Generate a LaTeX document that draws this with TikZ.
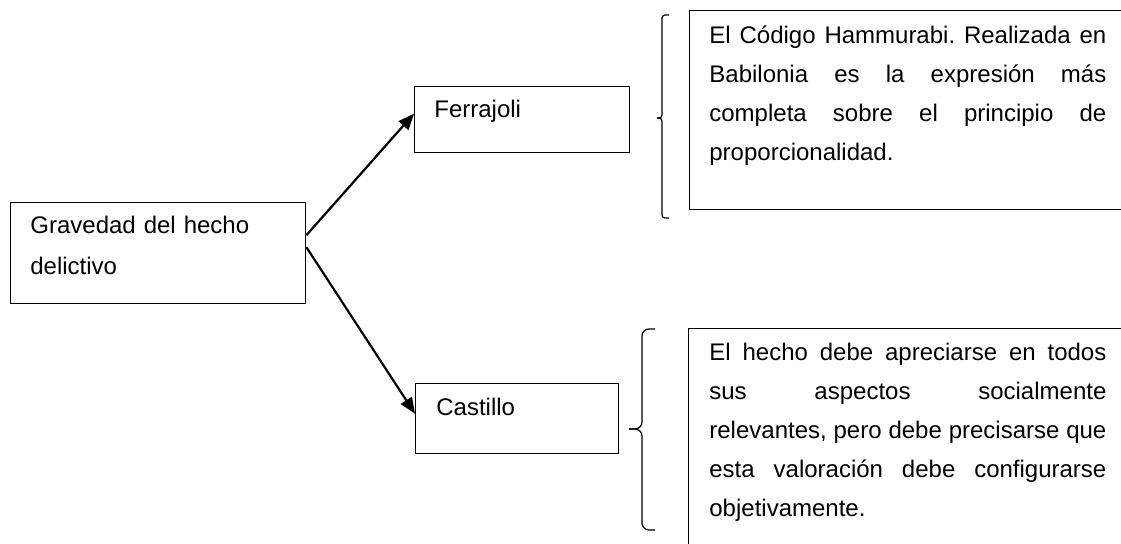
\documentclass[tikz,border=0pt]{standalone}
\usepackage{fontspec}
\setmainfont{Liberation Sans}
\usetikzlibrary{arrows.meta,calc}
\newcommand\mytextsetup{\frenchspacing\hyphenpenalty=10000\relax\exhyphenpenalty=10000\relax\tolerance=10000\relax}
\begin{document}
\begin{tikzpicture}[x=0.5pt,y=-0.5pt,
  frame/.style={draw=black,line width=0.7pt,rectangle,inner sep=0pt,anchor=north west},
  lbl/.style={inner sep=0pt,anchor=base west,
    font=\fontsize{12pt}{19.5pt}\selectfont\mytextsetup},
  para/.style={lbl,text width=198.5pt,align=justify},
  arr/.style={line width=1.1pt,-{Triangle[length=8pt,width=6.5pt]}},
  bracepath/.style={line width=0.6pt,rounded corners=1.5pt}]
\useasboundingbox (0,0) rectangle (1121,544);
\clip (0,0) rectangle (1121,544);

% boxes
\node[frame,minimum width=147.5pt,minimum height=50.5pt] (grav) at (10,202) {};
\node[frame,minimum width=107.5pt,minimum height=33pt] (ferr) at (414,86) {};
\node[frame,minimum width=101.5pt,minimum height=35pt] (cast) at (415,383) {};
\node[frame,minimum width=255.5pt,minimum height=99.5pt] (boxA) at (689,10) {};
\node[frame,minimum width=256pt,minimum height=136pt] (boxB) at (688,328) {};

% labels
\node[lbl,text width=140pt,align=left,font=\fontsize{12pt}{20.5pt}\selectfont] (gravT) at (30,234) {Gravedad del hecho\\delictivo};
\node[lbl] (ferrT) at (434,118) {Ferrajoli};
\node[lbl] (castT) at (436,416) {Castillo};
\node[para] (txtA) at (709,44) {El Código Hammurabi. Realizada en\linebreak Babilonia es la expresión más\linebreak completa sobre el principio de\linebreak proporcionalidad.};
\node[para] (txtB) at (709,361) {El hecho debe apreciarse en todos\linebreak sus aspectos socialmente\linebreak relevantes, pero debe precisarse que\linebreak esta valoración debe configurarse\linebreak objetivamente.};

% connectors
\draw[arr] ($(grav.east)+(0,-18)$) -- ($(ferr.west)+(0,-6)$);
\draw[arr] ($(grav.east)+(0,-6)$) -- ($(cast.west)+(0,-5)$);

% braces
\draw[bracepath] (669,15) -- (662,15) -- (662,118) -- (657,118);
\draw[bracepath] (657,118) -- (662,118) -- (662,218) -- (669,218);
\draw[bracepath,rounded corners=3.5pt] (655,329) -- (642,329) -- (642,429) -- (629,429);
\draw[bracepath,rounded corners=3.5pt] (629,429) -- (642,429) -- (642,530) -- (655,530);
\end{tikzpicture}
\end{document}
